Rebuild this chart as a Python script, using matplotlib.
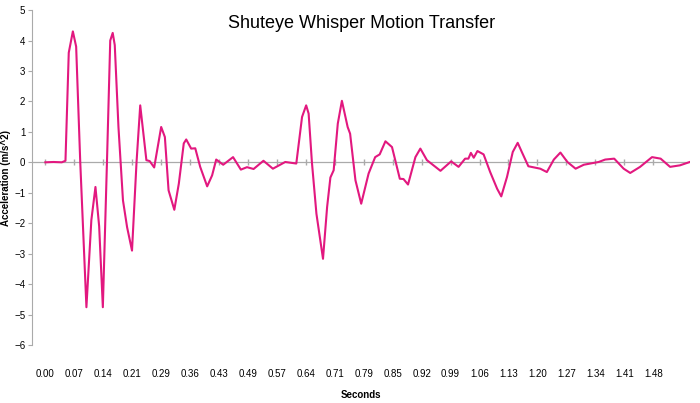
import matplotlib
matplotlib.use("Agg")
import matplotlib.pyplot as plt
import numpy as np

plt.rcParams['font.family'] = ['Liberation Sans', 'DejaVu Sans']

# readings: time (s), acceleration (m/s^2)
times = [0.000, 0.020, 0.040, 0.049, 0.057, 0.067, 0.075, 0.085, 0.100, 0.112, 0.122,
         0.131, 0.140, 0.150, 0.158, 0.164, 0.169, 0.178, 0.189, 0.199, 0.211, 0.222,
         0.231, 0.246, 0.254, 0.265, 0.282, 0.291, 0.300, 0.314, 0.325, 0.337, 0.343,
         0.355, 0.365, 0.377, 0.394, 0.406, 0.416, 0.433, 0.457, 0.476, 0.491, 0.507,
         0.531, 0.554, 0.584, 0.611, 0.625, 0.635, 0.641, 0.649, 0.660, 0.676, 0.686,
         0.694, 0.702, 0.712, 0.722, 0.736, 0.742, 0.755, 0.769, 0.787, 0.803, 0.814,
         0.828, 0.844, 0.863, 0.872, 0.883, 0.901, 0.913, 0.929, 0.962, 0.988, 1.006,
         1.022, 1.030, 1.036, 1.043, 1.052, 1.067, 1.083, 1.100, 1.110, 1.124, 1.138,
         1.150, 1.160, 1.176, 1.205, 1.221, 1.238, 1.254, 1.271, 1.291, 1.311, 1.347,
         1.363, 1.385, 1.408, 1.424, 1.448, 1.477, 1.498, 1.521, 1.545, 1.569]
accel = [0.00, 0.01, 0.00, 0.05, 3.60, 4.30, 3.80, 0.00, -4.76, -1.90, -0.81,
         -2.10, -4.76, 0.00, 4.00, 4.25, 3.85, 1.16, -1.25, -2.13, -2.90, 0.00,
         1.87, 0.07, 0.04, -0.17, 1.16, 0.83, -0.92, -1.56, -0.70, 0.62, 0.75,
         0.45, 0.46, -0.15, -0.79, -0.43, 0.09, -0.08, 0.17, -0.24, -0.16, -0.22,
         0.05, -0.21, 0.01, -0.04, 1.49, 1.87, 1.60, 0.00, -1.69, -3.17, -1.47,
         -0.50, -0.26, 1.27, 2.02, 1.16, 0.94, -0.59, -1.36, -0.37, 0.17, 0.26,
         0.69, 0.50, -0.54, -0.55, -0.73, 0.17, 0.45, 0.07, -0.28, 0.03, -0.15,
         0.12, 0.12, 0.31, 0.15, 0.37, 0.26, -0.32, -0.87, -1.12, -0.48, 0.34,
         0.64, 0.34, -0.13, -0.21, -0.32, 0.09, 0.32, 0.01, -0.21, -0.08, 0.01,
         0.09, 0.12, -0.21, -0.35, -0.15, 0.17, 0.12, -0.15, -0.10, 0.01]
tick_labels = ['0.00', '0.07', '0.14', '0.21', '0.29', '0.36', '0.43', '0.49', '0.57',
               '0.64', '0.71', '0.79', '0.85', '0.92', '0.99', '1.06', '1.13', '1.20',
               '1.27', '1.34', '1.41', '1.48']

fig = plt.figure(figsize=(7, 4.03), dpi=100)
ax = fig.add_axes([0.046, 0.144, 0.94, 0.831])
ax.plot(times, accel, color='#E2187F', lw=1.5, solid_joinstyle='round')

tick_pos = np.linspace(0, 1.48, len(tick_labels))
ax.axhline(0, color='#AAAAAA', lw=0.9, zorder=0)
ax.plot(tick_pos, np.zeros(len(tick_pos)), '|', color='#AAAAAA', ms=4, zorder=0)
ax.set_xticks(tick_pos)
ax.set_xticklabels(tick_labels, fontsize=7)
ax.tick_params(axis='x', length=0, pad=17)
ax.set_xlim(-0.032, 1.57)
ax.set_ylim(-6, 5)
ax.set_yticks(range(-6, 6))
ax.tick_params(axis='y', labelsize=7, length=3, color='#AAAAAA', pad=2)
for s in ['top', 'right', 'bottom']:
    ax.spines[s].set_visible(False)
ax.spines['left'].set_color('#AAAAAA')

ax.set_xlabel('Seconds', fontsize=7, fontweight='bold', labelpad=8)
ax.set_ylabel('Acceleration (m/s^2)', fontsize=7, fontweight='bold')
ax.yaxis.set_label_coords(-0.032, 0.5)
ax.text(0.5, 0.985, 'Shuteye Whisper Motion Transfer', transform=ax.transAxes,
        ha='center', va='top', fontsize=13)

fig.savefig('out.png', dpi=100)
